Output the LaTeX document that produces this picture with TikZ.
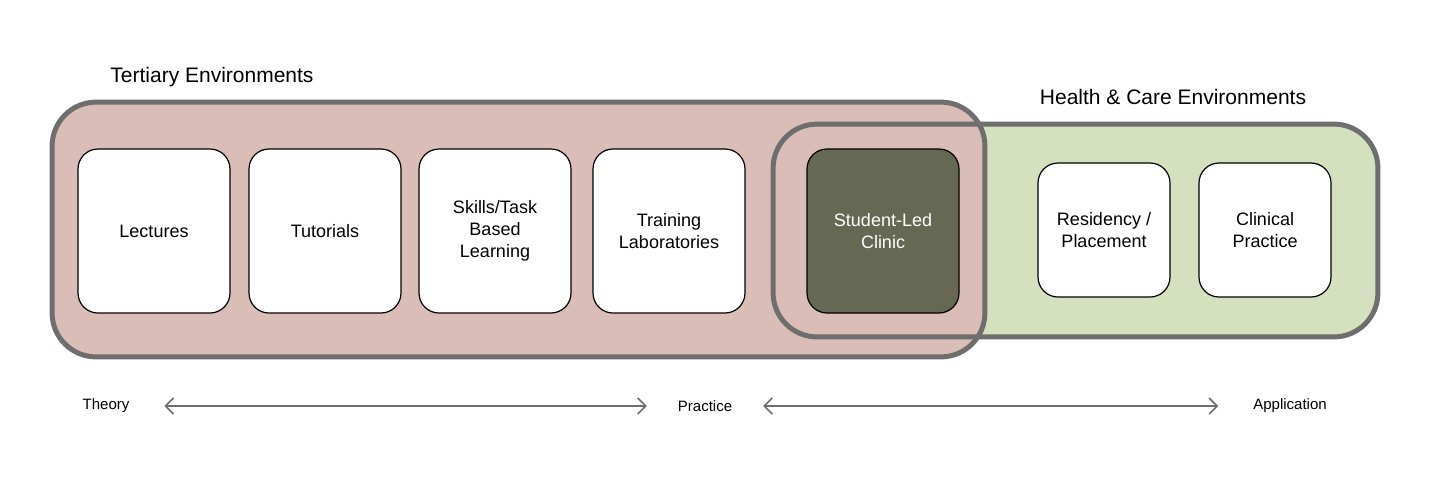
\documentclass[tikz,border=0pt]{standalone}
\usepackage{fontspec}
\setmainfont{Liberation Sans}
\usetikzlibrary{arrows.meta}
\definecolor{frame}{HTML}{6E6E6E}
\definecolor{tertfill}{HTML}{DBBDB8}
\definecolor{carefill}{HTML}{D5E0BF}
\definecolor{clinic}{HTML}{656853}
\begin{document}
\begin{tikzpicture}[
  x=0.5pt, y=-0.5pt,
  zone/.style={rectangle, rounded corners=22pt, inner sep=0pt}, % outer environments
  setting/.style={rectangle, rounded corners=10pt, draw=black, line width=0.6pt, fill=white,
    text centered, align=center, font=\fontsize{9}{11}\selectfont, inner sep=0pt},
  big/.style={minimum width=76pt, minimum height=82pt},
  small/.style={minimum width=66pt, minimum height=67pt},
  heading/.style={font=\fontsize{10.5}{12}\selectfont},
  axis/.style={font=\fontsize{7.5}{9}\selectfont},
  scale arrow/.style={draw=frame, line width=0.8pt, {Straight Barb[length=4pt]}-{Straight Barb[length=4pt]}}
]
\useasboundingbox (0,0) rectangle (1455,494);

% Environment zones (fills first, then frames)
\node[zone, fill=carefill, minimum width=302pt, minimum height=106pt] (care) at (1075.5,230.5) {};
\node[zone, fill=tertfill, minimum width=466pt, minimum height=127pt] (tert) at (518.5,229.5) {};
\draw[frame, line width=2.5pt, rounded corners=22pt] (tert.south west) rectangle (tert.north east);
\draw[frame, line width=2.5pt, rounded corners=22pt] (care.south west) rectangle (care.north east);

\node[heading] (terttitle) at (212,77) {Tertiary Environments};
\node[heading] (caretitle) at (1173,97) {Health \& Care Environments};

% Learning settings
\node[setting, big] (lectures) at (154,231) {Lectures};
\node[setting, big] (tutorials) at (325,231) {Tutorials};
\node[setting, big] (skills) at (495,231) {Skills/Task\\Based\\Learning};
\node[setting, big] (training) at (669,231) {Training\\Laboratories};
\node[setting, big, fill=clinic, text=white] (clinic) at (883,231) {Student-Led\\Clinic};
\node[setting, small] (residency) at (1104,230) {Residency /\\Placement};
\node[setting, small] (practice) at (1265,230) {Clinical\\Practice};

% Theory to application scale
\node[axis] (theory) at (106,406) {Theory};
\node[axis] (prac) at (705,406) {Practice};
\node[axis] (appl) at (1290,406) {Application};
\draw[scale arrow] ([xshift=14pt]theory.east) -- ([xshift=-12pt]prac.west);
\draw[scale arrow] ([xshift=12pt]prac.east) -- ([xshift=-14pt]appl.west);

\end{tikzpicture}
\end{document}
